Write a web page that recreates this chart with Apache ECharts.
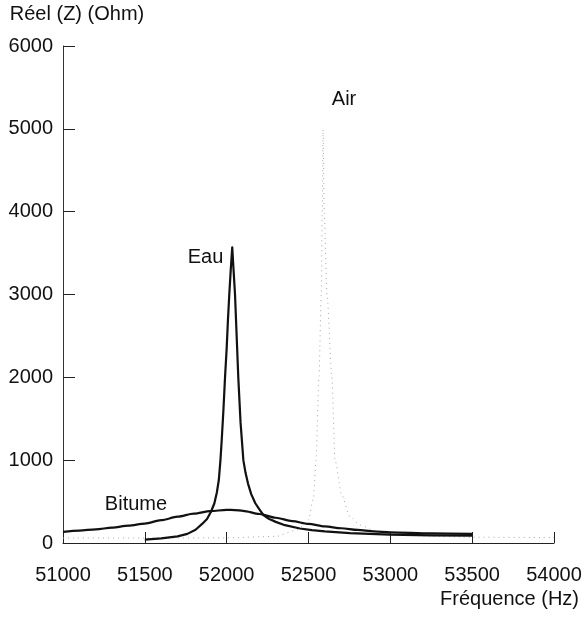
<!DOCTYPE html>
<html>
<head>
<meta charset="utf-8">
<script src="https://cdn.jsdelivr.net/npm/echarts@6/dist/echarts.min.js"></script>
<style>
  html, body { margin: 0; padding: 0; background: #fff; }
  #chart { width: 585px; height: 617px; }
</style>
</head>
<body>
<div id="chart"></div>
<script>
// Frequency sweep (Hz) and real part of impedance (Ohm) for three media
const airFreq = [51000, 51500, 52000, 52300, 52420, 52470, 52499, 52529, 52546, 52564, 52578, 52584, 52589, 52596, 52613, 52643, 52662, 52703, 52753, 52815, 52917, 53100, 53500, 54000];
const airZ    = [60, 60, 62, 80, 150, 210, 278, 528, 1000, 2000, 3000, 4000, 4990, 4000, 3000, 2000, 1000, 580, 318, 217, 136, 90, 70, 65];

const eauFreq = [51500, 51600, 51700, 51760, 51810, 51850, 51880, 51905, 51925, 51940, 51952, 51962, 51970, 51980, 51990, 52000, 52008, 52016, 52025, 52034, 52042, 52051, 52060, 52071, 52085, 52102, 52115, 52130, 52150, 52175, 52200, 52224, 52260, 52300, 52356, 52448, 52520, 52600, 52753, 52998, 53250, 53500];
const eauZ    = [40, 55, 80, 110, 160, 230, 290, 380, 480, 610, 760, 1000, 1250, 1600, 2000, 2350, 2700, 3000, 3300, 3570, 3300, 3000, 2550, 2000, 1450, 1000, 850, 720, 590, 480, 405, 338, 290, 255, 215, 175, 155, 140, 120, 100, 92, 88];

const bitFreq = [51000, 51100, 51200, 51300, 51400, 51500, 51600, 51700, 51800, 51900, 52000, 52050, 52100, 52200, 52300, 52400, 52500, 52600, 52700, 52800, 52900, 53000, 53250, 53500];
const bitZ    = [135, 150, 165, 185, 210, 235, 275, 318, 355, 385, 400, 398, 388, 350, 305, 265, 230, 200, 178, 158, 140, 128, 115, 110];

// Axis ranges and captions
const xMin = 51000, xMax = 54000, xStep = 500;
const yMin = 0, yMax = 6000, yStep = 1000;
const xTitle = 'Fréquence (Hz)';
const yTitle = 'Réel (Z) (Ohm)';

// Curve captions placed in data space
const captions = [
  { name: 'Air', coord: [52717, 5360] },
  { name: 'Eau', coord: [51871, 3441] },
  { name: 'Bitume', coord: [51446, 459] }
];

const pairs = (xs, ys) => xs.map((x, i) => [x, ys[i]]);
const font = '"Liberation Sans", Arial, Helvetica, sans-serif';
const fs = 20;
const ink = '#111';

const captionMark = (c) => ({
  symbol: 'circle', symbolSize: 0,
  label: { show: true, position: 'inside', formatter: '{b}', color: ink, fontSize: fs, fontFamily: font },
  data: [c]
});

const chart = echarts.init(document.getElementById('chart'), null, { renderer: 'canvas' });

chart.setOption({
  animation: false,
  backgroundColor: '#fff',
  textStyle: { fontFamily: font },
  grid: { left: 63, right: 31, top: 46, bottom: 74, containLabel: false },
  xAxis: {
    type: 'value', min: xMin, max: xMax, interval: xStep,
    axisLine: { show: true, lineStyle: { color: '#222', width: 1 } },
    axisTick: { show: true, inside: true, length: 11, lineStyle: { color: '#222', width: 1 } },
    splitLine: { show: false },
    axisLabel: { color: ink, fontSize: fs, fontFamily: font, margin: 22, formatter: v => String(v) },
    name: xTitle, nameLocation: 'end', nameGap: 25,
    nameTextStyle: { color: ink, fontSize: fs, fontFamily: font, align: 'right', verticalAlign: 'top', padding: [46, 0, 0, 0] }
  },
  yAxis: {
    type: 'value', min: yMin, max: yMax, interval: yStep,
    axisLine: { show: true, lineStyle: { color: '#333', width: 1 } },
    axisTick: { show: true, inside: true, length: 12, lineStyle: { color: '#222', width: 1 } },
    splitLine: { show: false },
    axisLabel: { color: ink, fontSize: fs, fontFamily: font, margin: 10, formatter: v => String(v) },
    name: yTitle, nameLocation: 'end', nameGap: 22,
    nameTextStyle: { color: ink, fontSize: fs, fontFamily: font, align: 'center', padding: [0, 0, 0, 28] }
  },
  series: [
    {
      name: 'Air', type: 'line', data: pairs(airFreq, airZ),
      showSymbol: false, smooth: 0.25, smoothMonotone: 'x',
      lineStyle: { color: '#a8a8a8', width: 1, type: [1, 4] },
      markPoint: captionMark(captions[0]),
      z: 1
    },
    {
      name: 'Eau', type: 'line', data: pairs(eauFreq, eauZ),
      showSymbol: false, smooth: false,
      lineStyle: { color: ink, width: 2.2, join: 'round' },
      markPoint: captionMark(captions[1]),
      z: 3
    },
    {
      name: 'Bitume', type: 'line', data: pairs(bitFreq, bitZ),
      showSymbol: false, smooth: 0.3, smoothMonotone: 'x',
      lineStyle: { color: ink, width: 2.2 },
      markPoint: captionMark(captions[2]),
      z: 2
    }
  ]
});
</script>
</body>
</html>
